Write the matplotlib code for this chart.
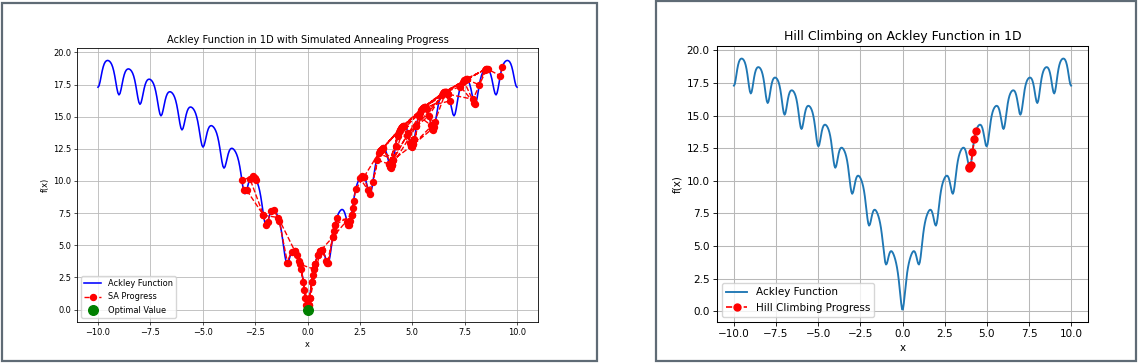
import numpy as np
import matplotlib
matplotlib.use("Agg")
import matplotlib.pyplot as plt
from matplotlib.patches import Rectangle

# Ackley function parameters (1D)
A_PARAM = 20.0
B_PARAM = 0.2
C_PARAM = 2 * np.pi

def ackley(x):
    x = np.asarray(x, dtype=float)
    return (-A_PARAM * np.exp(-B_PARAM * np.abs(x))
            - np.exp(np.cos(C_PARAM * x)) + A_PARAM + np.e)

x_range = (-10.0, 10.0)
n_samples = 400

# Simulated annealing visited x positions
sa_x = [9.3, 9.2, 8.6, 8.5, 8.45, 8.2, 7.55, 7.5, 7.45, 7.95, 8.0, 7.3,
        6.6, 6.55, 6.7, 6.45, 6.8, 5.6, 5.5, 5.45, 5.65, 6.0, 6.05, 5.9,
        5.3, 5.2, 4.5, 4.45, 4.55, 4.9, 5.0, 4.95, 4.4, 4.2, 3.95, 4.0,
        4.05, 3.6, 3.55, 3.5, 3.3, 3.9, 4.35, 5.1, 5.55, 6.6, 7.6, 6.5,
        5.5, 4.5, 3.45, 4.6, 5.4, 6.4, 7.4, 8.5, 7.6, 6.55, 5.6, 4.55,
        3.6, 4.4, 5.05, 6.1, 5.35, 4.3, 3.9, 5.6, 6.65, 7.5, 8.55, 7.9,
        6.7, 5.7, 4.6, 4.05, 5.2, 6.6, 5.95, 4.95, 4.1, 3.4,
        3.12, 2.9, 2.7, 2.6, 2.5, 3.0, 3.45, 4.5, 5.05,
        5.5, 6.5, 5.8, 4.8, 4.1, 3.5, 2.7, 2.3, 2.2, 2.15, 2.1, 2.0,
        1.95, 1.9, 2.05, 1.4, 1.3, 1.25, 1.2, 0.95, 0.9, 0.7, 0.6, 0.5,
        0.35, 0.3, 0.2, 0.1, 0.05, 0.02, -0.3, -0.5, -0.6, -0.75, -1.0,
        -0.95, -1.35, -1.6, -1.75, -1.9, -2.0, -2.1, -2.9, -3.05, -3.13,
        -2.6, -2.5, -2.45, -2.75, -2.1, -1.4, -0.6, -0.4, -0.2, -0.15,
        -0.1, -0.05, 0.0, 0.05, 0.1, 0.2, 0.25, 0.35, 0.5, 0.7, 1.0, 1.3,
        2.1, 1.2, 0.6, 0.03, -0.35, 0.3, 0.02, 0.0]

optimal_x = 0.0
optimal_y = 0.0

# Hill climbing visited x positions
hc_x = [3.95, 3.97, 4.05, 4.15, 4.25, 4.35]

W, H = 1138, 363
fig = plt.figure(figsize=(W / 100, H / 100), dpi=100)

def fx(px):
    return px / W

def fy(py):
    return 1 - py / H

# panel borders
border_col = "#5f6b75"
for (x0, y0, x1, y1) in [(2, 3, 597, 361), (656, 1, 1136, 361)]:
    fig.patches.append(Rectangle((fx(x0), fy(y1)), fx(x1) - fx(x0), fy(y0) - fy(y1),
                                 transform=fig.transFigure, fill=False,
                                 edgecolor=border_col, linewidth=1.6, zorder=10))

xs = np.linspace(x_range[0], x_range[1], n_samples)
ys = ackley(xs)

def style_axes(ax, s):
    ax.tick_params(labelsize=10 * s, length=3.5 * s, width=0.8 * s, pad=3.5 * s)
    for sp in ax.spines.values():
        sp.set_linewidth(1.0 * s)
    ax.grid(True, linewidth=1.0 * s, color="#b8b8b8")

# ---- left panel ----
s1 = 0.595
ax1 = fig.add_axes([fx(77), fy(322), fx(538) - fx(77), fy(48) - fy(322)])
ax1.plot(xs, ys, color="blue", linewidth=1.15, label="Ackley Function")
ax1.plot(sa_x, ackley(sa_x), "r--o", linewidth=1.0, markersize=4.3,
         label="SA Progress")
ax1.scatter([optimal_x], [optimal_y], color="green", s=48,
            zorder=5, label="Optimal Value")
ax1.set_title("Ackley Function in 1D with Simulated Annealing Progress",
              fontsize=12 * s1, pad=6 * s1)
ax1.set_xlabel("x", fontsize=10 * s1, labelpad=4 * s1)
ax1.set_ylabel("f(x)", fontsize=10 * s1, labelpad=4 * s1)
style_axes(ax1, s1)
ax1.legend(loc="lower left", fontsize=10 * s1, borderpad=0.4, handlelength=2.0)

# ---- right panel ----
s2 = 0.75
ax2 = fig.add_axes([fx(717), fy(322), fx(1088) - fx(717), fy(46) - fy(322)])
ax2.plot(xs, ys, color="#1f77b4", linewidth=1.35, label="Ackley Function")
ax2.plot(hc_x, ackley(hc_x), "ro--", linewidth=1.2, markersize=5.0,
         label="Hill Climbing Progress")
ax2.set_title("Hill Climbing on Ackley Function in 1D", fontsize=12 * s2, pad=6 * s2)
ax2.set_xlabel("x", fontsize=10 * s2, labelpad=4 * s2)
ax2.set_ylabel("f(x)", fontsize=10 * s2, labelpad=4 * s2)
style_axes(ax2, s2)
ax2.legend(loc="lower left", fontsize=10 * s2, borderpad=0.4)

fig.savefig("out.png", dpi=100)
